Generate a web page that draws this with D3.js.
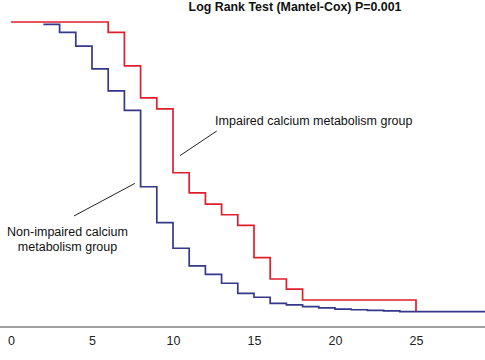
<!DOCTYPE html>
<html>
<head>
<meta charset="utf-8">
<script src="https://cdn.jsdelivr.net/npm/d3@7"></script>
<style>
  html, body { margin: 0; padding: 0; background: #fff; }
  svg { display: block; }
  text { font-family: "Liberation Sans", Arial, Helvetica, sans-serif; }
</style>
</head>
<body>
<svg id="chart" width="485" height="360"></svg>
<script>
// ---- Data ----
const title = "Log Rank Test (Mantel-Cox) P=0.001";
const xTicks = [0, 5, 10, 15, 20, 25];

const impairedTimes = [0, 6, 7, 8, 9, 10, 11, 12, 13, 14, 15, 16, 17, 18, 25];
const impairedSurv  = [1.0, 0.966, 0.856, 0.751, 0.715, 0.505, 0.439, 0.402, 0.367, 0.332, 0.226, 0.156, 0.123, 0.087, 0.049];

const nonImpairedTimes = [2, 3, 4, 5, 6, 7, 8, 9, 10, 11, 12, 13, 14, 15, 16, 17, 18, 19, 20, 21, 22, 23, 24, 29.3];
const nonImpairedSurv  = [0.992, 0.966, 0.921, 0.846, 0.774, 0.710, 0.459, 0.341, 0.257, 0.199, 0.171, 0.142, 0.109, 0.096, 0.076, 0.071, 0.065, 0.061, 0.057, 0.055, 0.053, 0.051, 0.049, 0.049];

const impairedLabel = ["Impaired calcium metabolism group"];
const nonImpairedLabel = ["Non-impaired calcium", "metabolism group"];

// ---- Layout ----
const W = 485, H = 360;
const svg = d3.select("#chart");
const x = d3.scaleLinear().domain([0, 29.26]).range([11, 485]);
const y = d3.scaleLinear().domain([0, 1]).range([326.5, 22]);

// axis
const axisG = svg.append("g").attr("transform", "translate(0,327)");
axisG.call(d3.axisBottom(x).tickValues(xTicks).tickSize(0).tickPadding(9))
  .call(g => g.select(".domain").remove())
  .call(g => g.selectAll("text").attr("font-size", 12.5).attr("fill", "#222")
    .attr("font-family", "Liberation Sans, Arial, sans-serif"));
svg.append("line").attr("x1", 0).attr("x2", W).attr("y1", 327).attr("y2", 327)
  .attr("stroke", "#444").attr("stroke-width", 1);

const line = d3.line().x(d => x(d[0])).y(d => y(d[1])).curve(d3.curveStepAfter);

svg.append("path")
  .datum(impairedTimes.map((t, i) => [t, impairedSurv[i]]))
  .attr("d", line).attr("fill", "none")
  .attr("stroke", "#e01f2d").attr("stroke-width", 1.7);

svg.append("path")
  .datum(nonImpairedTimes.map((t, i) => [t, nonImpairedSurv[i]]))
  .attr("d", line).attr("fill", "none")
  .attr("stroke", "#35378a").attr("stroke-width", 1.7);

// title
svg.append("text").attr("x", 295).attr("y", 11).attr("text-anchor", "middle")
  .attr("font-size", 12.4).attr("font-weight", "bold").attr("fill", "#111").text(title);

// annotations
svg.append("line").attr("x1", x(12.7)).attr("y1", y(0.642)).attr("x2", x(10.43)).attr("y2", y(0.561))
  .attr("stroke", "#222").attr("stroke-width", 1);
svg.append("text").attr("x", x(12.6)).attr("y", 124.5).attr("font-size", 12.5).attr("fill", "#111")
  .text(impairedLabel[0]);

svg.append("line").attr("x1", x(7.65)).attr("y1", y(0.47)).attr("x2", x(3.89)).attr("y2", y(0.363))
  .attr("stroke", "#222").attr("stroke-width", 1);
svg.selectAll("text.ni").data(nonImpairedLabel).join("text").attr("class", "ni")
  .attr("x", x(3.49)).attr("y", (d, i) => 235.5 + i * 15.5)
  .attr("text-anchor", "middle").attr("font-size", 12.5).attr("fill", "#111").text(d => d);
</script>
</body>
</html>
